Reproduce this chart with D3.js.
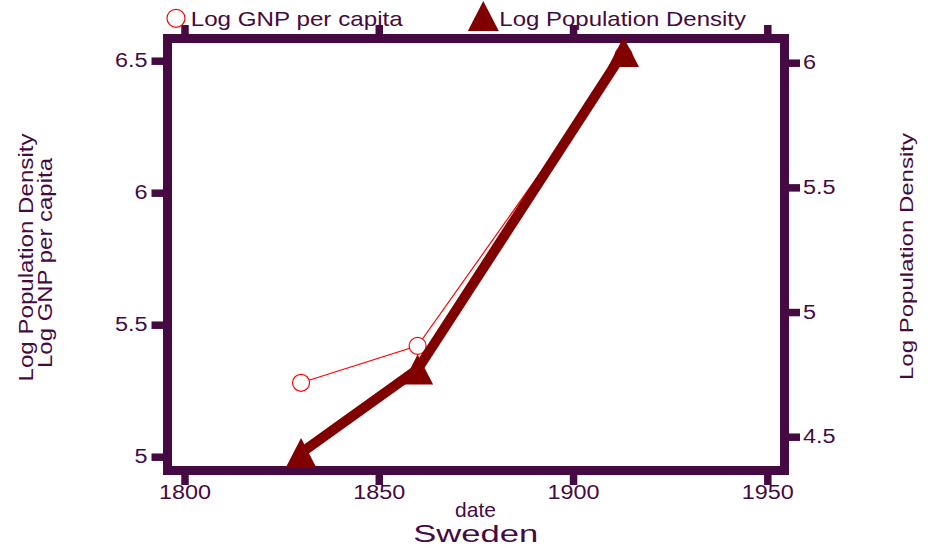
<!DOCTYPE html>
<html lang="en">
<head>
  <meta charset="UTF-8">
  <title>Sweden</title>
  <script src="https://d3js.org/d3.v7.min.js"></script>
  <style>
    body {
      margin: 0;
      background: #fff;
    }
    svg text {
      font-family: "Liberation Sans", Arial, sans-serif;
      fill: #460a42;
    }
  </style>
</head>
<body>
  <svg width="928" height="548"></svg>

  <script>
    // data
    const years = [1830, 1860, 1913];
    const logGnp = [5.28, 5.42, 6.52];
    const logPopDensity = [4.435, 4.77, 6.043];

    const xTicks = [1800, 1850, 1900, 1950];
    const leftTicks = [5, 5.5, 6, 6.5];
    const rightTicks = [4.5, 5, 5.5, 6];

    const ink = '#460a42';
    const maroon = '#800000';

    const svg = d3.select('svg');

    // frame edges (centre of the thick border)
    const frame = { left: 167.5, right: 784.5, top: 38.5, bottom: 470.5 };

    const x = d3.scaleLinear().domain([1800, 1950]).range([184.5, 767.3]);
    const yLeft = d3.scaleLinear().domain([5, 6.5]).range([456.7, 60.7]);
    const yRight = d3.scaleLinear().domain([4.5, 6]).range([436.7, 62.7]);

    // stretch text a bit wider, like the original
    function widen(sel, k) {
      sel.each(function () {
        const w = this.getComputedTextLength();
        d3.select(this).attr('textLength', w * k).attr('lengthAdjust', 'spacingAndGlyphs');
      });
    }

    function styleAxis(g) {
      g.select('.domain').remove();
      g.selectAll('.tick line').attr('stroke', ink).attr('stroke-width', 7.5);
      g.selectAll('.tick text').attr('font-size', 19.5).attr('fill', ink);
    }

    // axes
    const leftAxis = svg.append('g')
      .attr('transform', `translate(${frame.left},0)`)
      .call(d3.axisLeft(yLeft).tickValues(leftTicks).tickFormat(d3.format('~g')).tickSize(16).tickPadding(4));
    styleAxis(leftAxis);

    const rightAxis = svg.append('g')
      .attr('transform', `translate(${frame.right},0)`)
      .call(d3.axisRight(yRight).tickValues(rightTicks).tickFormat(d3.format('~g')).tickSize(15.5).tickPadding(3));
    styleAxis(rightAxis);

    const bottomAxis = svg.append('g')
      .attr('transform', `translate(0,${frame.bottom})`)
      .call(d3.axisBottom(x).tickValues(xTicks).tickFormat(d3.format('d')).tickSize(14.5).tickPadding(0));
    styleAxis(bottomAxis);

    const topAxis = svg.append('g')
      .attr('transform', `translate(0,${frame.top})`)
      .call(d3.axisTop(x).tickValues(xTicks).tickFormat('').tickSize(13.5));
    styleAxis(topAxis);

    svg.selectAll('.tick text').call(widen, 1.2);

    // frame
    svg.append('rect')
      .attr('x', frame.left)
      .attr('y', frame.top)
      .attr('width', frame.right - frame.left)
      .attr('height', frame.bottom - frame.top)
      .attr('fill', 'none')
      .attr('stroke', ink)
      .attr('stroke-width', 9);

    // GNP series
    const gnpLine = d3.line()
      .x((d, i) => x(years[i]))
      .y(d => yLeft(d));

    svg.append('path')
      .attr('d', gnpLine(logGnp))
      .attr('fill', 'none')
      .attr('stroke', '#f00')
      .attr('stroke-width', 1.2);

    svg.selectAll('.gnp')
      .data(logGnp)
      .enter()
      .append('circle')
      .attr('class', 'gnp')
      .attr('cx', (d, i) => x(years[i]))
      .attr('cy', d => yLeft(d))
      .attr('r', 8.5)
      .attr('fill', '#fff')
      .attr('stroke', '#f00')
      .attr('stroke-width', 1.2);

    // population density series
    const popLine = d3.line()
      .x((d, i) => x(years[i]))
      .y(d => yRight(d));

    svg.append('path')
      .attr('d', popLine(logPopDensity))
      .attr('fill', 'none')
      .attr('stroke', maroon)
      .attr('stroke-width', 10)
      .attr('stroke-linejoin', 'round');

    const tri = 'M0,-15L15.5,15L-15.5,15Z';

    svg.selectAll('.pop')
      .data(logPopDensity)
      .enter()
      .append('path')
      .attr('class', 'pop')
      .attr('d', tri)
      .attr('transform', (d, i) => `translate(${x(years[i])},${yRight(d)})`)
      .attr('fill', maroon);

    // legend
    svg.append('circle')
      .attr('cx', 176).attr('cy', 18.3).attr('r', 9)
      .attr('fill', '#fff').attr('stroke', '#f00').attr('stroke-width', 1.2);
    svg.append('text')
      .attr('x', 190.7).attr('y', 26)
      .attr('font-size', 21)
      .attr('textLength', 212).attr('lengthAdjust', 'spacingAndGlyphs')
      .text('Log GNP per capita');

    svg.append('path')
      .attr('d', tri)
      .attr('transform', 'translate(483.3,16)')
      .attr('fill', maroon);
    svg.append('text')
      .attr('x', 499.3).attr('y', 26)
      .attr('font-size', 21)
      .attr('textLength', 246.7).attr('lengthAdjust', 'spacingAndGlyphs')
      .text('Log Population Density');

    // axis titles
    svg.append('text')
      .attr('transform', 'translate(33.3,257.5) rotate(-90)')
      .attr('text-anchor', 'middle')
      .attr('font-size', 21)
      .attr('textLength', 248).attr('lengthAdjust', 'spacingAndGlyphs')
      .text('Log Population Density');

    svg.append('text')
      .attr('transform', 'translate(51.5,263) rotate(-90)')
      .attr('text-anchor', 'middle')
      .attr('font-size', 21)
      .attr('textLength', 210).attr('lengthAdjust', 'spacingAndGlyphs')
      .text('Log GNP per capita');

    svg.append('text')
      .attr('transform', 'translate(913.3,256.5) rotate(-90)')
      .attr('text-anchor', 'middle')
      .attr('font-size', 19)
      .attr('textLength', 247).attr('lengthAdjust', 'spacingAndGlyphs')
      .text('Log Population Density');

    svg.append('text')
      .attr('x', 475.5).attr('y', 517)
      .attr('text-anchor', 'middle')
      .attr('font-size', 21)
      .text('date');

    svg.append('text')
      .attr('x', 413.3).attr('y', 542)
      .attr('font-size', 24)
      .attr('textLength', 125).attr('lengthAdjust', 'spacingAndGlyphs')
      .text('Sweden');
  </script>
</body>
</html>
